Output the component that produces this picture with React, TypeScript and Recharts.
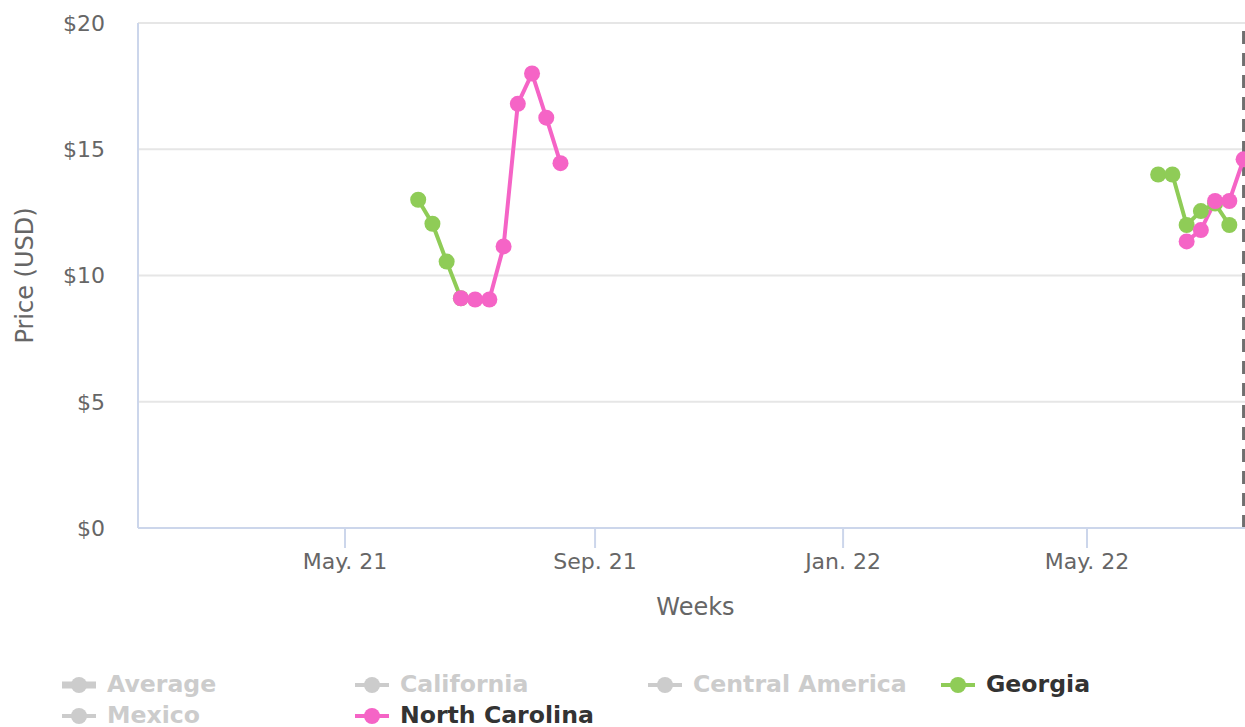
import { CartesianGrid, Line, LineChart, ReferenceLine, XAxis, YAxis } from "recharts";

// weekly prices (week ending Sunday)
const georgiaWeeks = [
  "2021-06-06", "2021-06-13", "2021-06-20", "2021-06-27",
  "2022-06-05", "2022-06-12", "2022-06-19", "2022-06-26", "2022-07-03", "2022-07-10",
];
const georgiaPrices = [13.0, 12.05, 10.55, 9.1, 14.0, 14.0, 12.0, 12.55, 12.85, 12.0];

const ncWeeks = [
  "2021-06-27", "2021-07-04", "2021-07-11", "2021-07-18", "2021-07-25", "2021-08-01", "2021-08-08", "2021-08-15",
  "2022-06-19", "2022-06-26", "2022-07-03", "2022-07-10", "2022-07-17",
];
const ncPrices = [9.1, 9.05, 9.05, 11.15, 16.8, 18.0, 16.25, 14.45, 11.35, 11.8, 12.95, 12.95, 14.6];

const xTickDates = ["2021-05-01", "2021-09-01", "2022-01-01", "2022-05-01"];
const xTickLabels = ["May. 21", "Sep. 21", "Jan. 22", "May. 22"];
const yTicks = [0, 5, 10, 15, 20];
const todayDate = "2022-07-17";
const xRange = ["2021-01-19T04:00:00Z", "2022-07-17T17:00:00Z"];

const legendNames = ["Average", "California", "Central America", "Georgia", "Mexico", "North Carolina"];
const legendColors = ["#cccccc", "#cccccc", "#cccccc", "#8fcc57", "#cccccc", "#f564c6"];
const legendVisible = [false, false, false, true, false, true];

const GEORGIA = "#8fcc57";
const NC = "#f564c6";
const FONT = "'DejaVu Sans', sans-serif";

interface Row {
  t: number;
  georgia?: number;
  nc?: number;
}

function buildRows(): Row[] {
  const rows = new Map<number, Row>();
  const get = (d: string) => {
    const t = Date.parse(d);
    if (!rows.has(t)) rows.set(t, { t });
    return rows.get(t)!;
  };
  georgiaWeeks.forEach((d, i) => (get(d).georgia = georgiaPrices[i]));
  ncWeeks.forEach((d, i) => (get(d).nc = ncPrices[i]));
  return [...rows.values()].sort((a, b) => a.t - b.t);
}

const data = buildRows();
const xTicks = xTickDates.map((d) => Date.parse(d));

function formatX(value: number): string {
  const i = xTicks.indexOf(value);
  return i >= 0 ? xTickLabels[i] : "";
}

function ChartLegend() {
  return (
    <div
      style={{
        position: "absolute",
        left: 62,
        top: 669,
        display: "grid",
        gridTemplateColumns: "repeat(4, 293px)",
        fontFamily: FONT,
        fontWeight: "bold",
        fontSize: 23.6,
      }}
    >
      {legendNames.map((name, i) => {
        const color = legendColors[i];
        return (
          <div key={name} style={{ display: "flex", alignItems: "center", height: 31 }}>
            <svg width={34} height={18}>
              <line x1={0} x2={34} y1={9} y2={9} stroke={color} strokeWidth={i === 0 ? 7 : 4} />
              <circle cx={17} cy={9} r={8} fill={color} />
            </svg>
            <span style={{ marginLeft: 11, color: legendVisible[i] ? "#333333" : "#cccccc", lineHeight: "31px" }}>
              {name}
            </span>
          </div>
        );
      })}
    </div>
  );
}

export default function App() {
  return (
    <div style={{ position: "absolute", left: 0, top: 0, width: 1245, height: 727, overflow: "hidden" }}>
      <LineChart width={1245} height={640} data={data} margin={{ top: 23, right: 0, left: 0, bottom: 0 }}>
        <CartesianGrid vertical={false} stroke="#e6e6e6" strokeWidth={2} />
        <XAxis
          dataKey="t"
          type="number"
          domain={[Date.parse(xRange[0]), Date.parse(xRange[1])]}
          ticks={xTicks}
          tickFormatter={formatX}
          height={112}
          tickSize={20}
          tickMargin={5}
          stroke="#ccd6eb"
          strokeWidth={2}
          tick={{ fill: "#666666", fontSize: 22, fontFamily: FONT }}
          label={{
            value: "Weeks",
            position: "insideBottom",
            offset: 25,
            dx: 4,
            style: { fill: "#666666", fontSize: 24, fontFamily: FONT },
          }}
        />
        <YAxis
          domain={[0, 20]}
          ticks={yTicks}
          width={138}
          tickLine={false}
          tickSize={0}
          tickMargin={33}
          tickFormatter={(v: number) => `$${v}`}
          stroke="#ccd6eb"
          strokeWidth={2}
          tick={{ fill: "#666666", fontSize: 22, fontFamily: FONT }}
          label={{
            value: "Price (USD)",
            angle: -90,
            position: "insideLeft",
            offset: 24,
            style: { fill: "#666666", fontSize: 24, fontFamily: FONT, textAnchor: "middle" },
          }}
        />
        <ReferenceLine x={Date.parse(todayDate)} stroke="#6f6f6f" strokeWidth={3} strokeDasharray="13 9" />
        <Line
          dataKey="georgia"
          name="Georgia"
          stroke={GEORGIA}
          strokeWidth={4}
          dot={{ r: 8, fill: GEORGIA, stroke: "none", strokeWidth: 0 }}
          activeDot={false}
          isAnimationActive={false}
        />
        <Line
          dataKey="nc"
          name="North Carolina"
          stroke={NC}
          strokeWidth={4}
          dot={{ r: 8, fill: NC, stroke: "none", strokeWidth: 0 }}
          activeDot={false}
          isAnimationActive={false}
        />
      </LineChart>
      <ChartLegend />
    </div>
  );
}
